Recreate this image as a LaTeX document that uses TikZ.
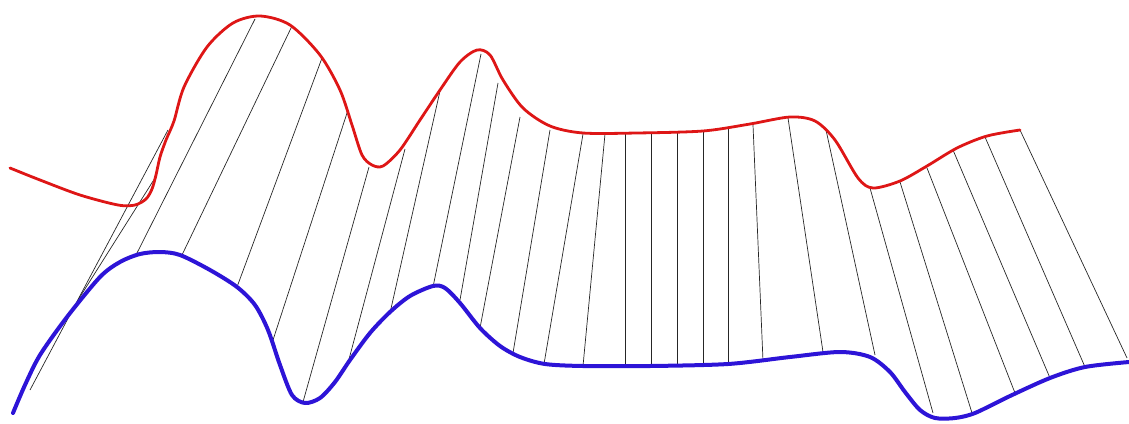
\documentclass[tikz,border=0pt]{standalone}
\begin{document}
\begin{tikzpicture}[x=1pt,y=-1pt,
  link/.style={black!85,line width=0.7pt},
  redcurve/.style={draw={rgb,255:red,222;green,22;blue,22},line width=2.8pt,line cap=round,line join=round},
  bluecurve/.style={draw={rgb,255:red,45;green,20;blue,215},line width=4pt,line cap=round,line join=round}]
\useasboundingbox (0,0) rectangle (1129,423);
\foreach [count=\i] \rx/\ry/\bx/\by in {
 168/130/30/390, 155/178/78/300, 255/19/137/253, 292/26/182/255, 322/58/237/287,
 348/110/273/340, 369/167/303/402, 405/149/348/363, 440/91/390/313, 481/54/433/287,
 498/83/460/300, 520/117/480/328, 550/130/513/353, 583/134/544/364, 605/134/583/366,
 625/133/625/366, 651/134/651/366, 677/133/677/366, 703/131/703/365, 728/128/728/364,
 753/125/763/361, 788/118/823/352, 826/130/875/355, 870/188/933/413, 900/182/972/413,
 927/168/1015/393, 953/150/1050/378, 985/137/1085/367, 1020/130/1127/358}
{
  \coordinate (r\i) at (\rx,\ry);
  \coordinate (b\i) at (\bx,\by);
  \draw[link] (r\i) -- (b\i);
}
\draw[redcurve] plot[smooth,tension=0.5] coordinates {
 (10,168) (40,180) (80,195) (118,205) (135,205) (146,199) (152,189) (156,175) (160,157)
 (166,140) (174,121) (184,87) (207,47) (233,23) (260,16) (290,25) (320,55) (340,90)
 (352,125) (362,155) (372,165) (383,166) (400,150) (420,120) (440,90) (460,62) (477,50)
 (490,55) (503,80) (523,108) (550,126) (583,133) (637,133) (703,131) (750,124) (790,117)
 (815,121) (835,140) (858,178) (873,188) (900,181) (927,166) (957,148) (987,136) (1020,130)};
\draw[bluecurve] plot[smooth,tension=0.5] coordinates {
 (13,413) (25,385) (40,355) (67,317) (100,277) (120,262) (140,254) (160,252) (180,255)
 (210,270) (237,287) (255,305) (268,330) (280,365) (292,395) (305,403) (320,398) (335,382)
 (350,360) (370,333) (390,312) (410,296) (433,286) (445,288) (460,303) (480,328)
 (500,346) (520,357) (545,364) (583,366) (650,366) (728,364) (790,357) (840,352) (870,357)
 (890,372) (905,392) (920,410) (935,418) (955,418) (975,413) (1010,396) (1050,378) (1085,367) (1129,362)};
\end{tikzpicture}
\end{document}
